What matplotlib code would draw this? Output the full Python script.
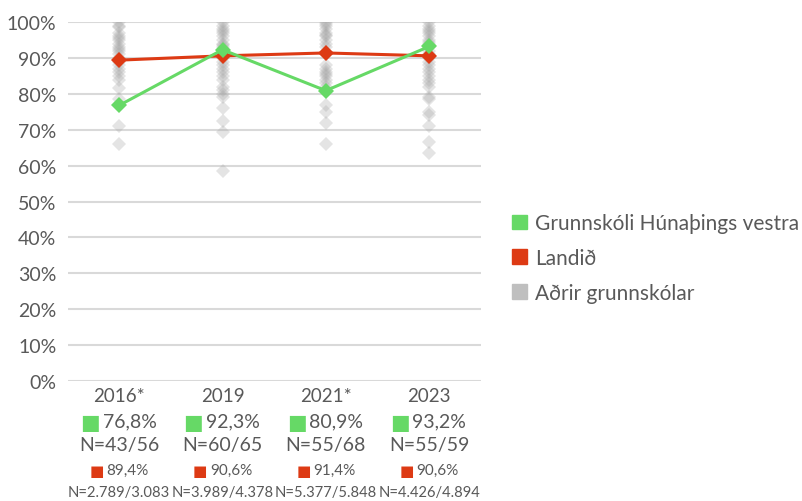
import matplotlib
matplotlib.use("Agg")
import matplotlib.pyplot as plt
from matplotlib.transforms import blended_transform_factory
from matplotlib.patches import Patch

plt.rcParams['font.family'] = ['Lato', 'DejaVu Sans']

# Data
years = ["2016*", "2019", "2021*", "2023"]
school = [76.8, 92.3, 80.9, 93.2]
national = [89.4, 90.6, 91.4, 90.6]
school_n = ["N=43/56", "N=60/65", "N=55/68", "N=55/59"]
national_n = ["N=2.789/3.083", "N=3.989/4.378", "N=5.377/5.848", "N=4.426/4.894"]

# other schools
others_2016 = [100, 99, 98.5, 97, 96, 95.5, 95, 94, 93, 92.5, 92, 91, 90, 89, 88, 87,
               86, 85, 84, 81.5, 78.5, 71, 66]
others_2019 = [100, 99, 98, 97.5, 97, 96, 95, 94, 93.5, 93, 92, 91, 90, 89, 88, 87, 86,
               85, 84, 82, 81, 80, 79, 76, 72.5, 69.5, 58.5]
others_2021 = [100, 99.5, 99, 98, 97, 96.5, 96, 95, 94, 93, 91, 88, 87, 86, 85.5, 85, 84,
               83, 82, 77, 75, 72, 66]
others_2023 = [100, 99, 98, 97.5, 97, 96, 95, 94.5, 94, 93, 92, 91, 90, 89, 88, 87, 86,
               85, 84, 83, 82, 79, 78.5, 75, 74, 71, 66.5, 63.5]
others = [others_2016, others_2019, others_2021, others_2023]

GREEN = "#66d966"
RED = "#dd3a14"
GREY = "#a6a6a6"
TXT = "#595959"

fig = plt.figure(figsize=(8.02, 5.02), dpi=100)
ax = fig.add_axes([0.0842, 0.239, 0.5153, 0.715])

x = list(range(len(years)))
for i, vals in enumerate(others):
    ax.plot([i] * len(vals), vals, linestyle="none", marker="D", markersize=7,
            color=GREY, alpha=0.3, markeredgewidth=0, zorder=2)

ax.plot(x, national, color=RED, lw=2.2, marker="D", markersize=8,
        markeredgewidth=0, zorder=3)
ax.plot(x, school, color=GREEN, lw=2.2, marker="D", markersize=8,
        markeredgewidth=0, zorder=4)

ax.set_xlim(-0.5, 3.5)
ax.set_ylim(0, 100)
ax.set_yticks(range(0, 101, 10))
ax.set_yticklabels([f"{v}%" for v in range(0, 101, 10)], fontsize=14, color=TXT)
ax.tick_params(axis="y", length=0, pad=8)
ax.set_xticks([])
ax.yaxis.grid(True, color="#d9d9d9", lw=1.5)
ax.set_axisbelow(True)
for s in ax.spines.values():
    s.set_visible(False)

# category labels under the axis
tr = blended_transform_factory(ax.transData, fig.transFigure)
for i in x:
    ax.text(i, 1 - 397 / 502, years[i], transform=tr, ha="center", va="center",
            fontsize=13.5, color=TXT)
    ax.annotate("■", xy=(i, 1 - 423 / 502), xycoords=tr, xytext=(-14, 0),
                textcoords="offset points", ha="right", va="center",
                fontsize=15, color=GREEN, family=["DejaVu Sans"])
    ax.annotate(f"{school[i]:.1f}%".replace(".", ","), xy=(i, 1 - 422 / 502),
                xycoords=tr, xytext=(-12, 0), textcoords="offset points",
                ha="left", va="center", fontsize=14, color=TXT)
    ax.text(i, 1 - 446 / 502, school_n[i], transform=tr, ha="center", va="center",
            fontsize=14, color=TXT)
    ax.annotate("■", xy=(i, 1 - 472 / 502), xycoords=tr, xytext=(-11, 0),
                textcoords="offset points", ha="right", va="center",
                fontsize=11, color=RED, family=["DejaVu Sans"])
    ax.annotate(f"{national[i]:.1f}%".replace(".", ","), xy=(i, 1 - 471 / 502),
                xycoords=tr, xytext=(-9, 0), textcoords="offset points",
                ha="left", va="center", fontsize=11, color=TXT)
    ax.text(i, 1 - 493 / 502, national_n[i], transform=tr, ha="center", va="center",
            fontsize=10.6, color=TXT)

handles = [Patch(color=GREEN, label="Grunnskóli Húnaþings vestra"),
           Patch(color=RED, label="Landið"),
           Patch(color="#bfbfbf", label="Aðrir grunnskólar")]
fig.legend(handles=handles, loc="center left", bbox_to_anchor=(0.628, 1 - 259 / 502),
           frameon=False, fontsize=15, labelcolor=TXT, handlelength=0.7,
           handleheight=0.7, handletextpad=0.4, labelspacing=0.7, borderaxespad=0)

fig.savefig("out.png", dpi=100)
